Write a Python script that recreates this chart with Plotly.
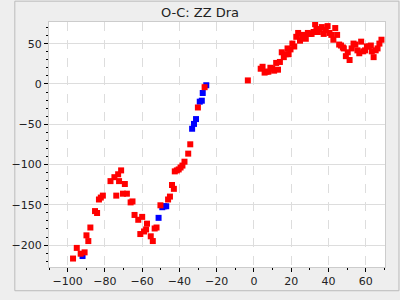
import plotly.graph_objects as go

red_x = [-97.1, -95.1, -93.0, -90.9, -89.9, -88.9, -87.8, -85.3, -84.2, -83.2, -82.2, -81.1,
         -77.0, -74.9, -73.9, -72.9, -72.4, -71.3, -70.3, -69.3, -68.2, -66.2, -65.2, -64.1,
         -62.1, -61.0, -60.0, -59.0, -57.9, -57.4, -55.4, -54.3, -53.3, -52.3, -50.2, -46.1,
         -45.1, -44.0, -43.0, -42.5, -41.4, -40.4, -39.4, -38.4, -37.3, -35.3, -34.2, -30.1,
         -26.5, -3.3,
         3.6, 4.6, 5.7, 6.7, 7.7, 8.8, 9.8, 10.8, 11.9, 12.9, 13.9, 14.9, 16.0, 17.0, 18.0,
         18.6, 19.6, 20.6, 21.6, 22.7, 23.7, 24.7, 25.8, 26.8, 27.8, 28.9, 29.9, 30.9, 32.0,
         32.8, 33.5, 34.3, 35.3, 36.4, 37.4, 38.5, 39.5, 40.5, 41.5, 42.6, 43.6, 44.6, 45.7,
         46.7, 47.7, 48.2, 49.3, 50.3, 51.3, 52.4, 53.4, 54.4, 55.5, 56.5, 57.5, 58.6, 59.6,
         60.6, 61.6, 62.7, 63.2, 64.2, 65.3, 66.3, 67.3, 68.4]
red_y = [-216.7, -203.5, -210.7, -209.0, -187.9, -195.0, -178.2, -157.8, -160.2, -143.4, -141.0, -138.6,
         -120.6, -115.7, -138.6, -112.1, -120.6, -107.3, -136.2, -124.2, -136.2, -147.0, -145.8, -162.6,
         -168.6, -186.3, -165.0, -183.1, -180.6, -173.4, -189.1, -195.0, -179.4, -178.2, -150.6, -143.4,
         -139.8, -125.4, -130.2, -108.5, -107.3, -106.1, -103.7, -101.3, -96.5, -86.5, -74.9, -29.2,
         -4.0, 4.4,
         18.9, 21.3, 14.1, 15.2, 15.2, 20.1, 18.9, 16.5, 26.1, 17.7, 27.3, 39.3, 33.3, 36.9, 44.1,
         36.9, 42.9, 50.1, 46.5, 58.5, 63.3, 53.7, 59.7, 60.9, 56.1, 63.3, 62.1, 62.1, 64.5,
         74.2, 68.1, 64.5, 68.1, 70.6, 62.1, 66.9, 71.8, 63.3, 60.9, 54.9, 69.4, 60.9, 48.9,
         47.7, 45.3, 44.1, 34.5, 39.3, 29.7, 44.1, 50.1, 48.9, 41.7, 38.1, 52.5, 40.5, 41.7,
         46.5, 46.5, 47.7, 40.5, 33.3, 41.7, 44.1, 50.1, 54.9]

blue_x = [-92.0, -51.2, -49.2, -48.2, -47.1, -33.2, -32.2, -31.1, -29.1, -28.0, -27.5, -25.6]
blue_y = [-213.6, -166.2, -153.0, -151.8, -151.8, -55.6, -49.6, -43.6, -22.0, -20.8, -11.2, -1.6]

title_text = "O-C: ZZ Dra"

fig = go.Figure()
fig.add_trace(go.Scatter(x=blue_x, y=blue_y, mode="markers",
                         marker=dict(symbol="square", size=6, color="#0000ff", line=dict(width=0)),
                         showlegend=False))
fig.add_trace(go.Scatter(x=red_x, y=red_y, mode="markers",
                         marker=dict(symbol="square", size=6, color="#ff0000", line=dict(width=0)),
                         showlegend=False))

W, H = 400, 300
ml, mr, mt, mb = 36, 15, 22, 25
pw, ph = W - ml - mr, H - mt - mb

fig.update_layout(
    width=W, height=H,
    margin=dict(l=ml, r=mr, t=mt, b=mb, pad=0),
    paper_bgcolor="#eeeeee",
    plot_bgcolor="#ffffff",
    font=dict(family="DejaVu Sans", size=11, color="#222222"),
    title=dict(text=title_text, x=0.5, xanchor="center", y=1 - 12 / H, yanchor="middle",
               font=dict(family="DejaVu Sans", size=13, color="#222222")),
    xaxis=dict(range=[-110, 70.3], tickmode="linear", tick0=-100, dtick=20,
               showgrid=True, gridcolor="#dddddd", griddash="dash", gridwidth=1,
               zeroline=False, showline=True, linecolor="#cccccc", mirror=True,
               ticks="outside", ticklen=4, tickcolor="#000000",
               minor=dict(dtick=10, tick0=-100, ticks="outside", ticklen=2, tickcolor="#000000", showgrid=False),
               tickfont=dict(size=11)),
    yaxis=dict(range=[-227.2, 76.9], tickmode="linear", tick0=0, dtick=50,
               showgrid=True, gridcolor="#dddddd", gridwidth=1,
               zeroline=False, showline=True, linecolor="#cccccc", mirror=True,
               ticks="outside", ticklen=4, tickcolor="#000000",
               minor=dict(dtick=10, tick0=0, ticks="outside", ticklen=2, tickcolor="#000000", showgrid=False),
               tickfont=dict(size=11)),
    shapes=[dict(type="rect", xref="paper", yref="paper",
                 x0=(-ml + 0.5) / pw, x1=(pw + mr - 0.5) / pw,
                 y0=(-mb + 0.5) / ph, y1=(ph + mt - 0.5) / ph,
                 line=dict(color="#bbbbbb", width=1), layer="below")],
)

fig.write_html("out.html")
